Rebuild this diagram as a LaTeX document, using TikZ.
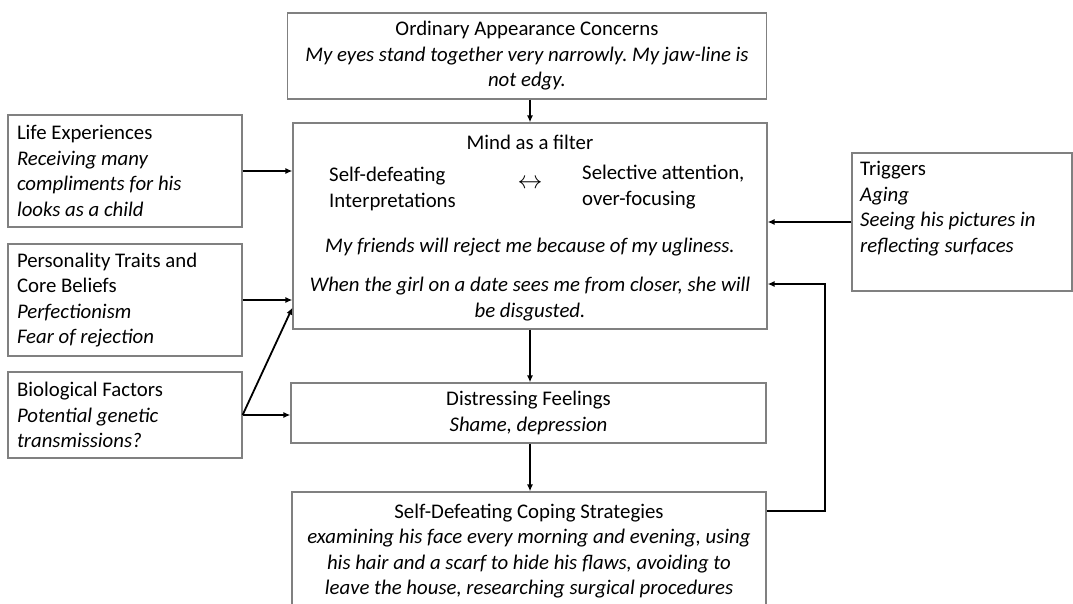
\documentclass[tikz,border=0pt]{standalone}
\usepackage{fontspec}
\setmainfont{Carlito}
\usetikzlibrary{arrows.meta}
\frenchspacing

\begin{document}
\begin{tikzpicture}[x=1pt, y=-1pt,
    every node/.style = {font=\fontsize{20.8}{25.5}\selectfont, inner sep=0pt},
    box/.style = {draw = black!50, line width=1.2pt, rectangle},
    sidebox/.style = {box, align=flush left, inner xsep=9pt, text width=216pt, minimum width=234pt},
    midbox/.style = {box, align=center, minimum width=474pt},
    link/.style = {-{Latex[length=7pt,width=6pt]}, line width=1.8pt}]

    \useasboundingbox (0,0) rectangle (1073,604);
    \clip (0,0) rectangle (1073,604);

    % left column
    \node[sidebox, minimum height=112pt] (life) at (125,171)
      {Life Experiences\\ \textit{Receiving many}\\ \textit{compliments for his}\\ \textit{looks as a child}};
    \node[sidebox, minimum height=112pt] (pers) at (125,300)
      {Personality Traits and\\ Core Beliefs\\ \textit{Perfectionism}\\ \textit{Fear of rejection}};
    \node[sidebox, minimum height=86pt] (bio) at (125,415)
      {Biological Factors\\ \textit{Potential genetic}\\ \textit{transmissions?}};

    % middle column
    \node[midbox, minimum width=479pt, minimum height=86pt] (top) at (527,56)
      {Ordinary Appearance Concerns\\ \textit{My eyes stand together very narrowly. My jaw-line is}\\ \textit{not edgy.}};

    \node[box, minimum width=474pt, minimum height=206pt] (mind) at (530,226) {};
    \node[] (mindtitle) at (530,142) {Mind as a filter};
    \node[anchor=west, align=left] (interp) at (329,189) {Self-defeating\\ Interpretations};
    \node[font=\fontsize{26}{26}\selectfont] (both) at (530,184) {$\leftrightarrow$};
    \node[anchor=west, align=left] (focus) at (582,187) {Selective attention,\\ over-focusing};
    \node[] (thought1) at (530,247) {\textit{My friends will reject me because of my ugliness.}};
    \node[align=center] (thought2) at (530,299)
      {\textit{When the girl on a date sees me from closer, she will}\\ \textit{be disgusted.}};

    \node[midbox, minimum width=475pt, minimum height=60pt] (dist) at (528.5,413)
      {Distressing Feelings\\ \textit{Shame, depression}};

    \node[midbox, minimum height=118pt] (cope) at (529,551)
      {Self-Defeating Coping Strategies\\
       \textit{examining his face every morning and evening, using}\\
       \textit{his hair and a scarf to hide his flaws, avoiding to}\\
       \textit{leave the house, researching surgical procedures}};

    % right column
    \node[box, minimum width=220pt, minimum height=138pt] (trig) at (962,222) {};
    \node[anchor=north west, align=flush left] (trigtext) at (860,161)
      {Triggers\\ \textit{Aging}\\ \textit{Seeing his pictures in}\\ \textit{reflecting surfaces}};

    \coordinate (loopa) at (825,511);
    \coordinate (loopb) at (825,284);

    \draw[link] (mind.north |- top.south) to (mind.north);
    \draw[link] (life.east) to (life.east -| mind.west);
    \draw[link] (pers.east) to (pers.east -| mind.west);
    \draw[link] (bio.east) to ([yshift=22pt]mind.south west);
    \draw[link] (bio.east) to (bio.east -| dist.west);
    \draw[link] (trig.west) to (trig.west -| mind.east);
    \draw[link] (mind.south) to (mind.south |- dist.north);
    \draw[link] (mind.south |- dist.south) to (mind.south |- cope.north);
    \draw[link] (cope.east |- loopa) -- (loopa) -- (loopb) -- (mind.east |- loopb);
\end{tikzpicture}
\end{document}
